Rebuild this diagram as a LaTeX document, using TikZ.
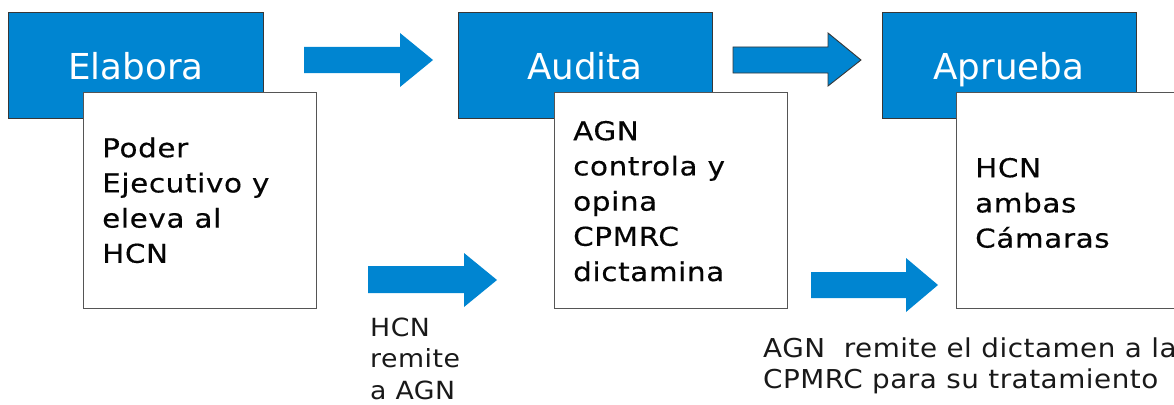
\documentclass[tikz,border=0pt]{standalone}
\usepackage{fontspec}
\setmainfont{DejaVu Sans}
\newfontfamily\titlefont{DejaVu Sans}
\newfontfamily\bodyfont{DejaVu Sans}[FakeStretch=1.13,LetterSpace=2.5,FakeBold=0.4]
\newfontfamily\labelfont{DejaVu Sans}[FakeStretch=1.07,LetterSpace=2]
\definecolor{boxblue}{RGB}{0,133,209}
\definecolor{edgegray}{RGB}{55,55,55}
\definecolor{txt}{RGB}{5,5,5}
\definecolor{lbl}{RGB}{25,25,25}
\begin{document}
\begin{tikzpicture}[x=1pt,y=-1pt,
  titlebox/.style={draw=edgegray,line width=0.9pt,fill=boxblue},
  bodybox/.style={draw=edgegray!85,line width=1pt,fill=white},
  titletext/.style={anchor=base,inner sep=0pt,text=white,font=\titlefont\fontsize{35.7}{36}\selectfont},
  bodytext/.style={anchor=north west,inner sep=0pt,text=txt,align=left,font=\bodyfont\fontsize{26}{35.2}\selectfont},
  labeltext/.style={anchor=north west,inner sep=0pt,text=lbl,align=left,font=\labelfont\fontsize{25}{31.5}\selectfont},
  blockarrow/.style={fill=boxblue},
  blockarrowb/.style={fill=boxblue,draw=edgegray,line width=0.9pt}]
\useasboundingbox (0,0) rectangle (1174,404);
\clip (0,0) rectangle (1174,404);
% title boxes
\path[titlebox] (8.5,12) rectangle (263,118);
\path[titlebox] (458,12) rectangle (712,118);
\path[titlebox] (882,12) rectangle (1136,118);
\node[titletext] (t1) at (136,79.5) {Elabora};
\node[titletext] (t2) at (585,79.5) {Audita};
\node[titletext] (t3) at (1009,79.5) {Aprueba};
% body boxes
\path[bodybox] (83,92) rectangle (316,308);
\path[bodybox] (554,92) rectangle (787,308);
\path[bodybox] (956,92) rectangle (1180,308);
\node[bodytext] (b1) at (102,137) {\rule{0pt}{20pt}Poder\\Ejecutivo y\\eleva al\\HCN};
\node[bodytext] (b2) at (573,120) {\rule{0pt}{20pt}AGN\\controla y\\opina\\CPMRC\\dictamina};
\node[bodytext] (b3) at (975,157) {\rule{0pt}{20pt}HCN\\ambas\\Cámaras};
% block arrows
\fill[blockarrow] (304,47) -- (400,47) -- (400,33) -- (433,60) -- (400,87) -- (400,73) -- (304,73) -- cycle;
\path[blockarrowb] (733,47) -- (828,47) -- (828,33) -- (861,60) -- (828,86) -- (828,73) -- (733,73) -- cycle;
\fill[blockarrow] (368,266) -- (464,266) -- (464,253) -- (497,280) -- (464,307) -- (464,293) -- (368,293) -- cycle;
\fill[blockarrow] (811,272) -- (906,272) -- (906,258) -- (938,285) -- (906,312) -- (906,298) -- (811,298) -- cycle;
% labels
\node[labeltext] (l1) at (370,317) {\rule{0pt}{19pt}HCN\\remite\\a AGN};
\node[labeltext,font=\labelfont\fontsize{26}{31}\selectfont] (l2) at (763,337) {\rule{0pt}{20pt}AGN\ \ remite el dictamen a la\\CPMRC para su tratamiento};
\end{tikzpicture}
\end{document}
